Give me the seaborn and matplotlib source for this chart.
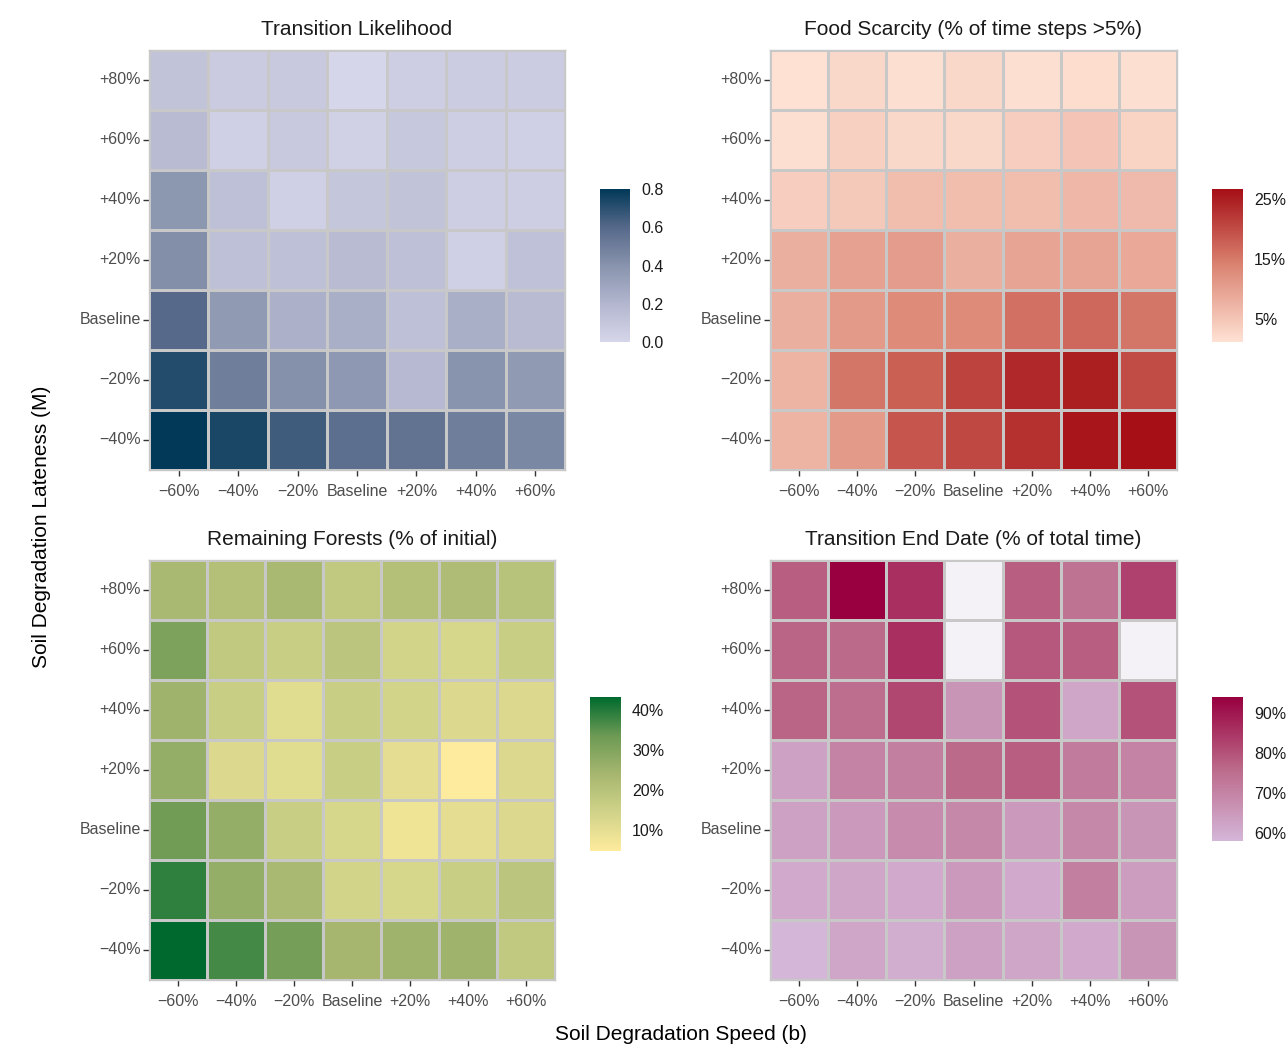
import numpy as np
import pandas as pd
import matplotlib
matplotlib.use("Agg")
import matplotlib.pyplot as plt
import seaborn as sns
from matplotlib.colors import LinearSegmentedColormap

# ─── Data ─────────────────────────────────────────────────────────────────────
speed_labels = ["−60%", "−40%", "−20%", "Baseline", "+20%", "+40%", "+60%"]
lateness_labels = ["+80%", "+60%", "+40%", "+20%", "Baseline", "−20%", "−40%"]

transition_likelihood = [
    [0.12, 0.07, 0.08, 0.00, 0.05, 0.06, 0.06],
    [0.17, 0.04, 0.08, 0.03, 0.09, 0.05, 0.04],
    [0.38, 0.14, 0.04, 0.10, 0.12, 0.05, 0.05],
    [0.42, 0.14, 0.14, 0.17, 0.14, 0.04, 0.13],
    [0.60, 0.36, 0.23, 0.24, 0.14, 0.24, 0.17],
    [0.72, 0.50, 0.41, 0.37, 0.18, 0.40, 0.36],
    [0.80, 0.74, 0.65, 0.57, 0.55, 0.50, 0.45],
]

food_scarcity = [
    [1.2, 2.5, 1.5, 2.5, 1.5, 1.8, 1.5],
    [1.5, 3.5, 2.5, 2.5, 4.0, 5.0, 3.0],
    [4.0, 4.5, 6.0, 6.0, 6.0, 7.0, 6.5],
    [8.0, 10.0, 10.5, 8.0, 9.5, 9.5, 9.0],
    [8.0, 11.0, 13.0, 13.0, 16.0, 17.0, 15.5],
    [7.5, 15.5, 18.0, 21.0, 24.0, 25.0, 20.0],
    [7.5, 11.0, 19.0, 20.5, 23.0, 26.0, 26.7],
]

remaining_forests = [
    [23, 21, 23, 18, 21, 22, 20],
    [31, 18, 16, 19, 14, 13, 16],
    [25, 16, 11, 16, 14, 12, 12],
    [27, 12, 11, 16, 10, 4.8, 12],
    [33, 27, 16, 13, 8, 10, 12],
    [39, 27, 23, 14, 13, 16, 19],
    [43.2, 37, 32, 24, 25, 25, 18],
]

end_date = [
    [78, 94, 86, np.nan, 78, 74, 83],
    [77, 76, 86, np.nan, 79, 78, np.nan],
    [77, 75, 82, 66, 80, 62, 80],
    [63, 70, 71, 76, 78, 72, 70],
    [63, 65, 68, 69, 65, 69, 66],
    [61, 62, 61, 65, 61, 71, 64],
    [58, 62, 60, 63, 62, 61, 66],
]

# ─── Styling ──────────────────────────────────────────────────────────────────
sns.set_style("white")
plt.rcParams["font.family"] = ["Liberation Sans", "DejaVu Sans"]

W, H = 1287, 1045
fig = plt.figure(figsize=(W / 100, H / 100), dpi=100)


def px_axes(x0, y0, x1, y1):
    """Add axes using pixel coords (top-left origin)."""
    return fig.add_axes([x0 / W, 1 - y1 / H, (x1 - x0) / W, (y1 - y0) / H])


panels = [
    dict(data=transition_likelihood, title="Transition Likelihood",
         colors=["#d6d6ea", "#b2b6ce", "#8893ad", "#56698a", "#023858"],
         box=(149, 50, 565, 470), cbox=(600, 189, 630, 342),
         ticks=[0.0, 0.2, 0.4, 0.6, 0.8], fmt="{:.1f}"),
    dict(data=food_scarcity, title="Food Scarcity (% of time steps >5%)",
         colors=["#fee1d3", "#db8472", "#a50f15"],
         box=(770, 50, 1177, 470), cbox=(1212, 189, 1243, 342),
         ticks=[5, 15, 25], fmt="{:.0f}%"),
    dict(data=remaining_forests, title="Remaining Forests (% of initial)",
         colors=["#feeb9d", "#d0d389", "#a6b66f", "#6c9a54", "#006a2e"],
         box=(149, 560, 555, 980), cbox=(590, 697, 621, 851),
         ticks=[10, 20, 30, 40], fmt="{:.0f}%"),
    dict(data=end_date, title="Transition End Date (% of total time)",
         colors=["#d4b6d9", "#bc6a8a", "#98003f"],
         box=(770, 560, 1177, 980), cbox=(1212, 697, 1243, 841),
         ticks=[60, 70, 80, 90], fmt="{:.0f}%"),
]

for p in panels:
    df = pd.DataFrame(p["data"], index=lateness_labels, columns=speed_labels)
    cmap = LinearSegmentedColormap.from_list("c", p["colors"])
    ax = px_axes(*p["box"])
    cax = px_axes(*p["cbox"])
    ax.set_facecolor("#f4f2f7")
    sns.heatmap(df, ax=ax, cbar_ax=cax, cmap=cmap,
                vmin=np.nanmin(df.values), vmax=np.nanmax(df.values),
                linewidths=0.8, linecolor="#c8c8c8")
    for s in ax.spines.values():
        s.set_visible(True)
        s.set_color("#c8c8c8")
        s.set_linewidth(1)
    ax.set_title(p["title"], fontsize=15, color="#1a1a1a", pad=11)
    ax.set_xlabel("")
    ax.set_ylabel("")
    ax.tick_params(axis="both", length=4, width=1, color="#333333",
                   labelsize=11.5, labelcolor="#4d4d4d", pad=2,
                   bottom=True, left=True)
    ax.tick_params(axis="x", pad=6)
    plt.setp(ax.get_yticklabels(), rotation=0)
    plt.setp(ax.get_xticklabels(), rotation=0)

    cax.set_yticks(p["ticks"])
    cax.set_yticklabels([p["fmt"].format(t) for t in p["ticks"]])
    cax.tick_params(axis="y", direction="in", color="white", length=6,
                    width=1, left=True, right=True, labelright=True,
                    labelleft=False, labelsize=11.5, labelcolor="#1a1a1a", pad=8)
    for s in cax.spines.values():
        s.set_visible(False)

fig.text(681 / W, 1 - 1034 / H, "Soil Degradation Speed (b)",
         ha="center", va="center", fontsize=15, color="#000000")
fig.text(42 / W, 1 - 527 / H, "Soil Degradation Lateness (M)",
         ha="center", va="center", rotation=90, fontsize=15, color="#000000")

fig.savefig("out.png", dpi=100)
